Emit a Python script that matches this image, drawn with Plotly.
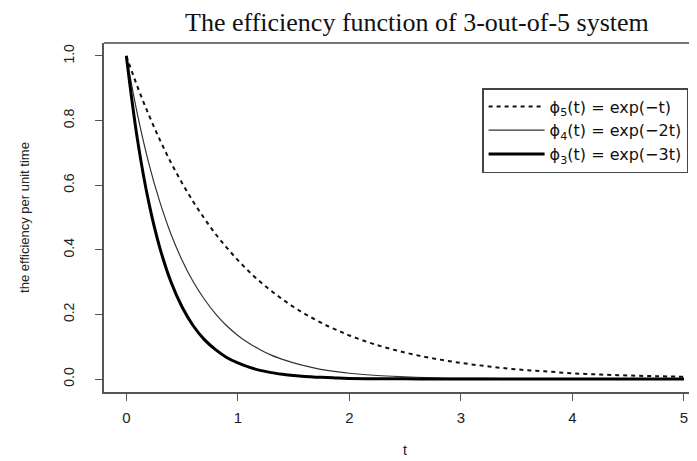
import plotly.graph_objects as go

# t values and curve values
t = [0.0, 0.1, 0.2, 0.3, 0.4, 0.5, 0.6, 0.7, 0.8, 0.9, 1.0,
     1.1, 1.2, 1.3, 1.4, 1.5, 1.6, 1.7, 1.8, 1.9, 2.0,
     2.25, 2.5, 2.75, 3.0, 3.25, 3.5, 3.75, 4.0, 4.25, 4.5, 4.75, 5.0]
phi5 = [1.000, 0.905, 0.819, 0.741, 0.670, 0.607, 0.549, 0.497, 0.449, 0.407, 0.368,
        0.333, 0.301, 0.273, 0.247, 0.223, 0.202, 0.183, 0.165, 0.150, 0.135,
        0.105, 0.082, 0.064, 0.050, 0.039, 0.030, 0.024, 0.018, 0.014, 0.011, 0.009, 0.007]
phi4 = [1.000, 0.819, 0.670, 0.549, 0.449, 0.368, 0.301, 0.247, 0.202, 0.165, 0.135,
        0.111, 0.091, 0.074, 0.061, 0.050, 0.041, 0.033, 0.027, 0.022, 0.018,
        0.011, 0.007, 0.004, 0.002, 0.002, 0.001, 0.001, 0.000, 0.000, 0.000, 0.000, 0.000]
phi3 = [1.000, 0.741, 0.549, 0.407, 0.301, 0.223, 0.165, 0.122, 0.091, 0.067, 0.050,
        0.037, 0.027, 0.020, 0.015, 0.011, 0.008, 0.006, 0.005, 0.003, 0.002,
        0.001, 0.001, 0.000, 0.000, 0.000, 0.000, 0.000, 0.000, 0.000, 0.000, 0.000, 0.000]

names = ["ϕ<sub>5</sub>(t) = exp(−t)", "ϕ<sub>4</sub>(t) = exp(−2t)", "ϕ<sub>3</sub>(t) = exp(−3t)"]
x_ticks = [0, 1, 2, 3, 4, 5]
y_ticks = [0.0, 0.2, 0.4, 0.6, 0.8, 1.0]

fig = go.Figure()
fig.add_trace(go.Scatter(x=t, y=phi5, mode="lines", name=names[0],
                         line=dict(color="#111", width=2, dash="4px,4px", shape="spline")))
fig.add_trace(go.Scatter(x=t, y=phi4, mode="lines", name=names[1],
                         line=dict(color="#333", width=1.2, shape="spline")))
fig.add_trace(go.Scatter(x=t, y=phi3, mode="lines", name=names[2],
                         line=dict(color="#000", width=3, shape="spline")))

axis_color = "#555"
# page body adds an 8px offset, so the figure is 8px smaller and shifted accordingly
fig.update_layout(
    width=689, height=453,
    margin=dict(l=96, r=0, t=35, b=69),
    plot_bgcolor="white", paper_bgcolor="white",
    showlegend=True,
    legend=dict(x=0.985, y=0.871, xanchor="right", yanchor="top",
                bordercolor="#444", borderwidth=1.5, bgcolor="white",
                font=dict(family="DejaVu Sans, Liberation Sans, Arial", size=16, color="#111"),
                tracegroupgap=0, itemwidth=56),
    xaxis=dict(range=[-0.2, 5.117], tickvals=x_ticks, ticktext=[str(v) for v in x_ticks],
               automargin=False,
               showgrid=False, zeroline=False, showline=True, linecolor=axis_color, linewidth=1.5,
               ticks="outside", ticklen=7, tickcolor=axis_color, tickwidth=1.2,
               tickfont=dict(family="Liberation Sans, Arial", size=15, color="#222"),
               ticklabelstandoff=4),
    yaxis=dict(range=[-0.04, 1.04], tickvals=y_ticks, ticktext=[f"{v:.1f}" for v in y_ticks],
               automargin=False,
               showgrid=False, zeroline=False, showline=True, linecolor=axis_color, linewidth=1.5,
               ticks="outside", ticklen=7, tickcolor=axis_color, tickwidth=1.2, tickangle=-90,
               tickfont=dict(family="Liberation Sans, Arial", size=14, color="#222"),
               ticklabelstandoff=16,
               title=dict(text="the efficiency per unit time", standoff=28,
                          font=dict(family="Liberation Sans Narrow, Liberation Sans, Arial", size=13, color="#222"))),
    shapes=[dict(type="line", xref="paper", yref="paper", x0=0, x1=1, y0=1, y1=1,
                 line=dict(color="#777", width=2))],
    annotations=[
        dict(text="The efficiency function of 3-out-of-5 system", xref="paper", yref="paper",
             x=0.527, y=1.0, yshift=21, showarrow=False, xanchor="center", yanchor="middle",
             font=dict(family="Liberation Serif, Times New Roman", size=26, color="#111")),
        dict(text="t", xref="x", yref="paper", x=2.5, y=0, yshift=-58, showarrow=False,
             xanchor="center", yanchor="middle",
             font=dict(family="Liberation Sans, Arial", size=14, color="#222")),
    ],
)

fig.write_html("out.html")
